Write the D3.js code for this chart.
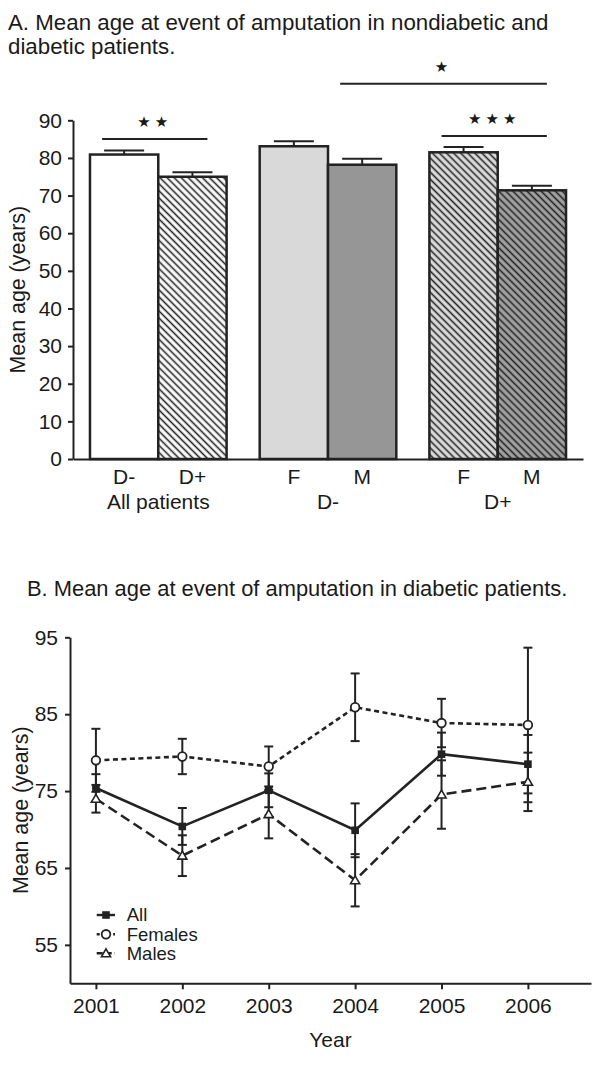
<!DOCTYPE html>
<html>
<head>
<meta charset="utf-8">
<script src="https://cdn.jsdelivr.net/npm/d3@7"></script>
<style>
  html, body { margin: 0; padding: 0; background: #fff; }
  svg { display: block; }
  text { font-family: "Liberation Sans", Arial, Helvetica, sans-serif; fill: #1a1a1a; }
</style>
</head>
<body>
<svg id="chart" width="600" height="1068"></svg>
<script>
// ---------- Data: panel A ----------
const groupLabels = ["All patients", "D-", "D+"];
const barLabels = ["D-", "D+", "F", "M", "F", "M"];
const barGroup = [0, 0, 1, 1, 2, 2];
const barSub = [0, 1, 0, 1, 0, 1];
const barMeans = [80.9, 75.0, 83.1, 78.2, 81.5, 71.4];
const barErrs = [1.1, 1.2, 1.3, 1.6, 1.4, 1.2];
const barStyles = ["white", "whiteHatch", "light", "dark", "lightHatch", "darkHatch"];
const yTicksA = [0, 10, 20, 30, 40, 50, 60, 70, 80, 90];
// significance brackets: from bar index, to bar index, level (years), stars
const sigFrom = [0, 3, 4];
const sigTo = [1, 5, 5];
const sigLevel = [85.0, 99.7, 85.8];
const sigStars = ["★★", "★", "★★★"];

// ---------- Data: panel B ----------
const years = [2001, 2002, 2003, 2004, 2005, 2006];
const allMean = [75.4, 70.4, 75.1, 69.9, 79.8, 78.5];
const allErr = [1.8, 2.4, 2.2, 3.5, 2.8, 3.8];
const femMean = [79.0, 79.5, 78.2, 85.9, 83.85, 83.6];
const femErr = [4.1, 2.3, 2.6, 4.4, 3.15, 10.05];
const maleMean = [74.0, 66.6, 72.0, 63.4, 74.55, 76.2];
const maleErr = [1.8, 2.65, 3.15, 3.4, 4.45, 3.8];
const seriesNames = ["All", "Females", "Males"];
const yTicksB = [55, 65, 75, 85, 95];

const INK = "#222";
const svg = d3.select("#chart");
svg.append("rect").attr("width", 600).attr("height", 1068).attr("fill", "#fff");

// ---------- patterns ----------
const defs = svg.append("defs");
function hatch(id, bg) {
  const p = defs.append("pattern").attr("id", id)
    .attr("patternUnits", "userSpaceOnUse")
    .attr("width", 5).attr("height", 5)
    .attr("patternTransform", "rotate(-45)");
  p.append("rect").attr("width", 5).attr("height", 5).attr("fill", bg);
  p.append("line").attr("x1", 2.5).attr("x2", 2.5).attr("y1", 0).attr("y2", 5)
    .attr("stroke", INK).attr("stroke-width", 1.6);
}
hatch("hatchWhite", "#ffffff");
hatch("hatchLight", "#dedede");
hatch("hatchDark", "#a3a3a3");
const fills = {
  white: "#ffffff",
  whiteHatch: "url(#hatchWhite)",
  light: "#d9d9d9",
  dark: "#969696",
  lightHatch: "url(#hatchLight)",
  darkHatch: "url(#hatchDark)"
};

// ---------- Titles ----------
svg.append("text").attr("x", 8).attr("y", 30).attr("font-size", 22.3)
  .text("A. Mean age at event of amputation in nondiabetic and");
svg.append("text").attr("x", 8).attr("y", 54).attr("font-size", 22.3)
  .text("diabetic patients.");
svg.append("text").attr("x", 27).attr("y", 596).attr("font-size", 21.9)
  .text("B. Mean age at event of amputation in diabetic patients.");

// ---------- Panel A ----------
const yA = d3.scaleLinear().domain([0, 90]).range([459, 120.3]);
const xG = d3.scaleBand().domain(groupLabels).range([73, 583])
  .paddingInner(0.195).paddingOuter(0.1);
const xS = d3.scaleBand().domain([0, 1]).range([0, xG.bandwidth()]);
const barX = i => xG(groupLabels[barGroup[i]]) + xS(barSub[i]);
const barC = i => barX(i) + xS.bandwidth() / 2;

const gA = svg.append("g");
const idx = d3.range(barMeans.length);

// bars
gA.selectAll("rect.bar").data(idx).join("rect")
  .attr("class", "bar")
  .attr("x", i => barX(i))
  .attr("width", xS.bandwidth())
  .attr("y", i => yA(barMeans[i]))
  .attr("height", i => yA(0) - yA(barMeans[i]))
  .attr("fill", i => fills[barStyles[i]])
  .attr("stroke", INK).attr("stroke-width", 2.5);

// error bars (upper)
gA.selectAll("line.err").data(idx).join("line")
  .attr("x1", i => barC(i)).attr("x2", i => barC(i))
  .attr("y1", i => yA(barMeans[i])).attr("y2", i => yA(barMeans[i] + barErrs[i]))
  .attr("stroke", INK).attr("stroke-width", 2);
gA.selectAll("line.cap").data(idx).join("line")
  .attr("x1", i => barC(i) - 20).attr("x2", i => barC(i) + 20)
  .attr("y1", i => yA(barMeans[i] + barErrs[i])).attr("y2", i => yA(barMeans[i] + barErrs[i]))
  .attr("stroke", INK).attr("stroke-width", 2);

// axes
const yAxisA = d3.axisLeft(yA).tickValues(yTicksA).tickSize(5).tickSizeOuter(0).tickPadding(6);
const ya = gA.append("g").attr("transform", "translate(73,0)").call(yAxisA);
ya.selectAll("path,line").attr("stroke", INK).attr("stroke-width", 2);
ya.selectAll("text").attr("font-size", 21).attr("fill", "#1a1a1a")
  .style("font-family", '"Liberation Sans", Arial, sans-serif');

const xAxisA = d3.axisBottom(xG).tickSize(0).tickSizeOuter(0).tickFormat("");
const xa = gA.append("g").attr("transform", "translate(0,459)").call(xAxisA);
xa.select("path").attr("stroke", INK).attr("stroke-width", 2);

// bar labels and group labels
gA.selectAll("text.blab").data(idx).join("text")
  .attr("class", "blab")
  .attr("x", i => barC(i)).attr("y", 484)
  .attr("text-anchor", "middle").attr("font-size", 21)
  .text(i => barLabels[i]);
gA.selectAll("text.glab").data(groupLabels).join("text")
  .attr("class", "glab")
  .attr("x", d => xG(d) + xG.bandwidth() / 2).attr("y", 509)
  .attr("text-anchor", "middle").attr("font-size", 21)
  .text(d => d);

// y label
gA.append("text")
  .attr("transform", `translate(17,${(yA(0) + yA(90)) / 2}) rotate(-90)`)
  .attr("text-anchor", "middle").attr("dy", "0.35em").attr("font-size", 21.4)
  .text("Mean age (years)");

// significance brackets
const sIdx = d3.range(sigFrom.length);
gA.selectAll("line.sig").data(sIdx).join("line")
  .attr("x1", k => barC(sigFrom[k]) - 22).attr("x2", k => barC(sigTo[k]) + 15)
  .attr("y1", k => yA(sigLevel[k])).attr("y2", k => yA(sigLevel[k]))
  .attr("stroke", INK).attr("stroke-width", 2);
gA.selectAll("text.sig").data(sIdx).join("text")
  .attr("x", k => (barC(sigFrom[k]) - 22 + barC(sigTo[k]) + 15) / 2)
  .attr("y", k => yA(sigLevel[k]) - 12)
  .attr("text-anchor", "middle")
  .attr("font-size", 15)
  .attr("letter-spacing", 4)
  .style("font-family", '"DejaVu Sans", sans-serif')
  .text(k => sigStars[k]);

// ---------- Panel B ----------
const xB = d3.scaleLinear().domain([2000.7, 2006.73]).range([70, 591]);
const yB = d3.scaleLinear().domain([50, 95]).range([983.3, 637.3]);
const gB = svg.append("g");

const yAxisB = d3.axisLeft(yB).tickValues(yTicksB).tickSize(5).tickSizeOuter(0).tickPadding(7);
const yb = gB.append("g").attr("transform", "translate(70,0)").call(yAxisB);
yb.selectAll("path,line").attr("stroke", INK).attr("stroke-width", 2);
yb.selectAll("text").attr("font-size", 21).attr("fill", "#1a1a1a")
  .style("font-family", '"Liberation Sans", Arial, sans-serif');

const xAxisB = d3.axisBottom(xB).tickValues(years).tickFormat(d3.format("d"))
  .tickSize(6).tickSizeOuter(0).tickPadding(9);
const xb = gB.append("g").attr("transform", "translate(0,983.3)").call(xAxisB);
xb.selectAll("path,line").attr("stroke", INK).attr("stroke-width", 2);
xb.selectAll("text").attr("font-size", 21).attr("fill", "#1a1a1a")
  .style("font-family", '"Liberation Sans", Arial, sans-serif');

gB.append("text").attr("x", (70 + 591) / 2).attr("y", 1047)
  .attr("text-anchor", "middle").attr("font-size", 21).text("Year");
gB.append("text")
  .attr("transform", `translate(20,${(yB(50) + yB(95)) / 2}) rotate(-90)`)
  .attr("text-anchor", "middle").attr("dy", "0.35em").attr("font-size", 21.4)
  .text("Mean age (years)");

const series = [
  { name: seriesNames[0], mean: allMean, err: allErr, dash: null, marker: "square" },
  { name: seriesNames[1], mean: femMean, err: femErr, dash: "5,3.5", marker: "circle" },
  { name: seriesNames[2], mean: maleMean, err: maleErr, dash: "10,5", marker: "triangle" }
];

// error bars
series.forEach(s => {
  const g = gB.append("g");
  years.forEach((yr, i) => {
    const cx = xB(yr), lo = yB(s.mean[i] - s.err[i]), hi = yB(s.mean[i] + s.err[i]);
    g.append("line").attr("x1", cx).attr("x2", cx).attr("y1", lo).attr("y2", hi)
      .attr("stroke", INK).attr("stroke-width", 2);
    [lo, hi].forEach(yy => g.append("line").attr("x1", cx - 4.5).attr("x2", cx + 4.5)
      .attr("y1", yy).attr("y2", yy).attr("stroke", INK).attr("stroke-width", 2));
  });
});

// lines
const lineGen = d3.line().x(d => xB(d[0])).y(d => yB(d[1]));
series.forEach(s => {
  gB.append("path")
    .datum(years.map((yr, i) => [yr, s.mean[i]]))
    .attr("d", lineGen)
    .attr("fill", "none").attr("stroke", INK).attr("stroke-width", 2.6)
    .attr("stroke-dasharray", s.dash);
});

// markers
function drawMarker(g, type, cx, cy) {
  if (type === "square") {
    g.append("rect").attr("x", cx - 3.8).attr("y", cy - 3.8).attr("width", 7.6).attr("height", 7.6)
      .attr("fill", INK);
  } else if (type === "circle") {
    g.append("circle").attr("cx", cx).attr("cy", cy).attr("r", 4.3)
      .attr("fill", "#fff").attr("stroke", INK).attr("stroke-width", 1.8);
  } else {
    g.append("path").attr("transform", `translate(${cx},${cy + 0.8})`)
      .attr("d", d3.symbol(d3.symbolTriangle).size(36)())
      .attr("fill", "#fff").attr("stroke", INK).attr("stroke-width", 1.6);
  }
}
series.forEach(s => {
  const g = gB.append("g");
  years.forEach((yr, i) => drawMarker(g, s.marker, xB(yr), yB(s.mean[i])));
});

// legend
const legY = [915, 934.3, 953.3];
series.forEach((s, k) => {
  const g = gB.append("g");
  g.append("line").attr("x1", 96.7).attr("x2", 115).attr("y1", legY[k]).attr("y2", legY[k])
    .attr("stroke", INK).attr("stroke-width", 2.4)
    .attr("stroke-dasharray", s.dash ? (k === 1 ? "3,2.5" : "6,3") : null);
  drawMarker(g, s.marker, 106, legY[k]);
  g.append("text").attr("x", 126.7).attr("y", legY[k]).attr("dy", "0.35em")
    .attr("font-size", 18.5).text(s.name);
});
</script>
</body>
</html>
